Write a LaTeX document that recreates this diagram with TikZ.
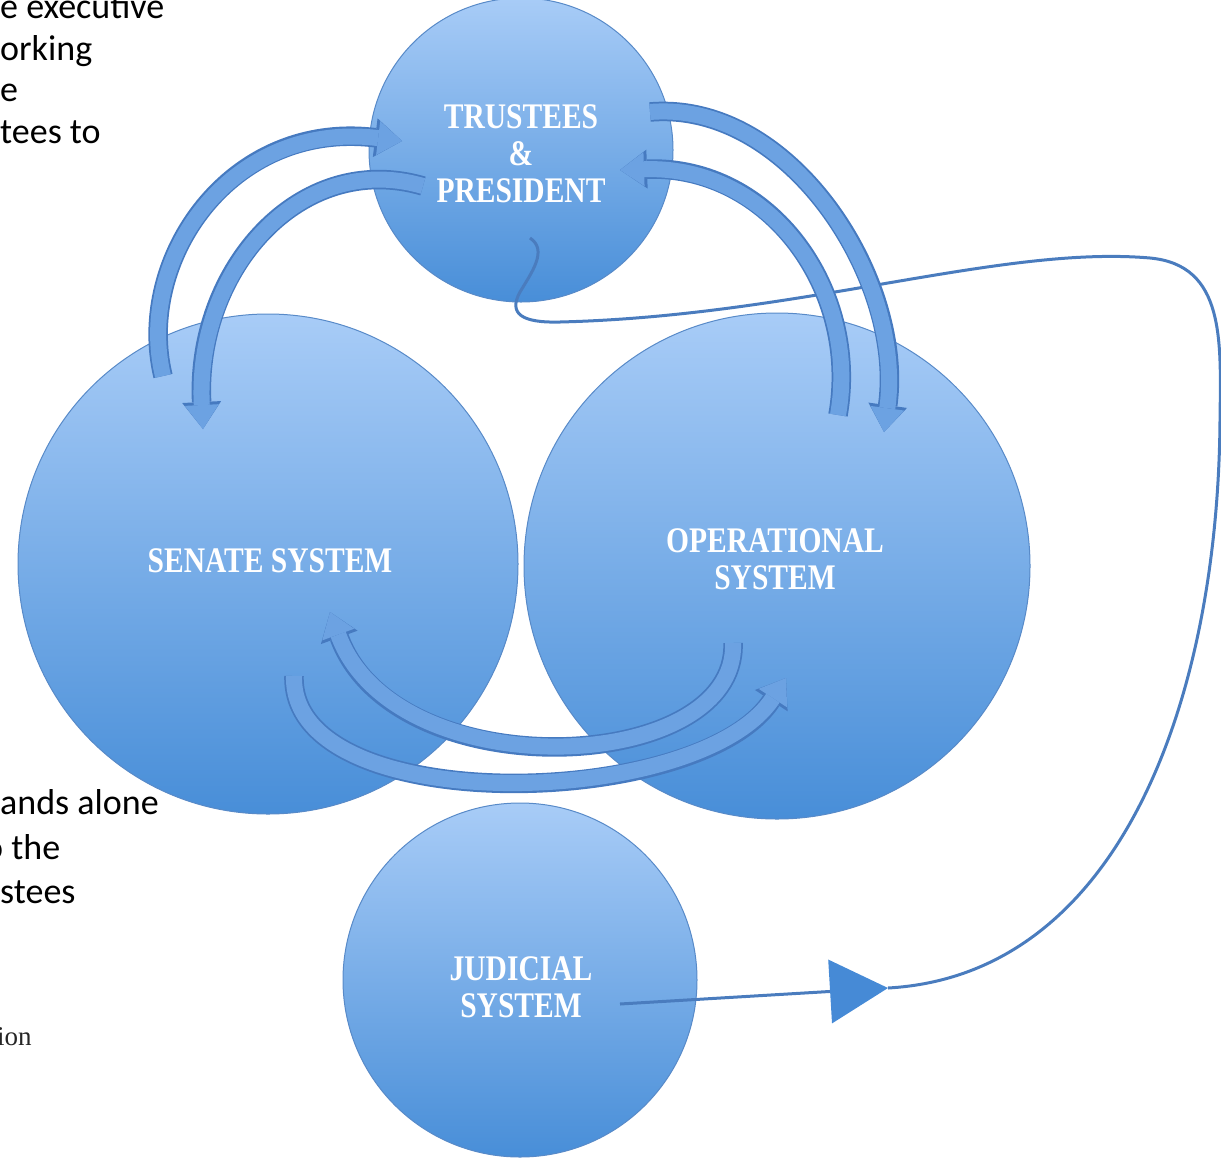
\documentclass[tikz,border=0pt]{standalone}
\usepackage{fontspec}
\setmainfont{Carlito}
\newfontfamily\circfont[FakeStretch=0.82]{Liberation Serif}
\newfontfamily\smallserif{Liberation Serif}
\usetikzlibrary{arrows.meta}
\definecolor{ctop}{RGB}{168,204,247}
\definecolor{cbot}{RGB}{72,142,216}
\definecolor{cedge}{RGB}{88,138,200}
\definecolor{arrfill}{RGB}{108,162,226}
\definecolor{arredge}{RGB}{70,122,192}
\definecolor{linecol}{RGB}{74,124,190}
\definecolor{tricol}{RGB}{70,138,214}
\begin{document}
\begin{tikzpicture}[x=1pt,y=-1pt,
  circ/.style={circle, draw=cedge, line width=1pt, top color=ctop, bottom color=cbot,
    inner sep=0pt},
  ctext/.style={inner sep=0pt, text=white, align=center,
    font=\circfont\bfseries\fontsize{36}{37}\selectfont},
  blk/.style={line width=16pt, draw=arrfill,
    -{Triangle[width=34pt,length=24pt,line width=0pt]},
    preaction={draw=arredge, line width=19.5pt,
      -{Triangle[width=39pt,length=27pt,line width=0pt]}}},
  thinln/.style={draw=linecol, line width=3pt},
  sidetext/.style={anchor=base west, inner sep=0pt, text=black,
    font=\fontsize{36}{44}\selectfont}]
\useasboundingbox (0,0) rectangle (1221,1157);

% side text fragments
\node[sidetext] (s1) at (0,18) {e executive};
\node[sidetext] (s2) at (0,60) {orking};
\node[sidetext] (s3) at (0,101) {e};
\node[sidetext] (s4) at (0,143) {tees to};
\node[sidetext] (s5) at (0,814) {ands alone};
\node[sidetext] (s6) at (-16,859) {o the};
\node[sidetext] (s7) at (0,903) {stees};
\node[anchor=base west, inner sep=0pt, text=black!85,
  font=\smallserif\fontsize{27}{27}\selectfont] (s8) at (-3,1045) {ion};

% circles
\node[circ, minimum size=304pt] (trustees) at (521,150) {};
\node[circ, minimum size=500pt] (senate) at (268,564) {};
\node[circ, minimum size=506pt] (oper) at (777,566) {};
\node[circ, minimum size=354pt] (judicial) at (520,980) {};

% circle labels
\node[ctext] (trusteesText) at (521,154) {TRUSTEES\\\&\\PRESIDENT};
\node[ctext] (senateText) at (270,561) {SENATE SYSTEM};
\node[ctext] (operText) at (775,559) {OPERATIONAL\\SYSTEM};
\node[ctext] (judicialText) at (521,987) {JUDICIAL\\SYSTEM};

% connector end points
\coordinate (tS) at (530,238);
\coordinate (jS) at (620,1004);
\coordinate (tip) at (888,988);
\coordinate (aT) at (163,376);
\coordinate (aH) at (402,141);
\coordinate (bT) at (423,186);
\coordinate (bH) at (203,429);
\coordinate (cT) at (650,112);
\coordinate (cH) at (884,432);
\coordinate (dT) at (838,415);
\coordinate (dH) at (620,170);
\coordinate (eT) at (733,643);
\coordinate (eH) at (330,612);
\coordinate (fT) at (294,676);
\coordinate (fH) at (786,678);

% thin connector trustees -> judicial arrow
\draw[thinln] (tS) .. controls (548,250) and (532,272) .. (520,292)
  .. controls (508,314) and (522,323) .. (560,322)
  .. controls (800,316) and (1000,245) .. (1150,258)
  .. controls (1225,265) and (1221,340) .. (1220,420)
  .. controls (1218,700) and (1120,975) .. (tip);
\draw[thinln, -{Triangle[width=64pt,length=58pt,line width=0pt,color=tricol]}] (jS) -- (tip);

% block arrows
\draw[blk] (aT) .. controls (135,260) and (230,120) .. (aH);
\draw[blk] (bT) .. controls (300,150) and (195,270) .. (bH);
\draw[blk] (cT) .. controls (790,100) and (905,280) .. (cH);
\draw[blk] (dT) .. controls (860,290) and (770,165) .. (dH);
\draw[blk] (eT) .. controls (738,775) and (395,790) .. (eH);
\draw[blk] (fT) .. controls (290,820) and (700,810) .. (fH);
\end{tikzpicture}
\end{document}
